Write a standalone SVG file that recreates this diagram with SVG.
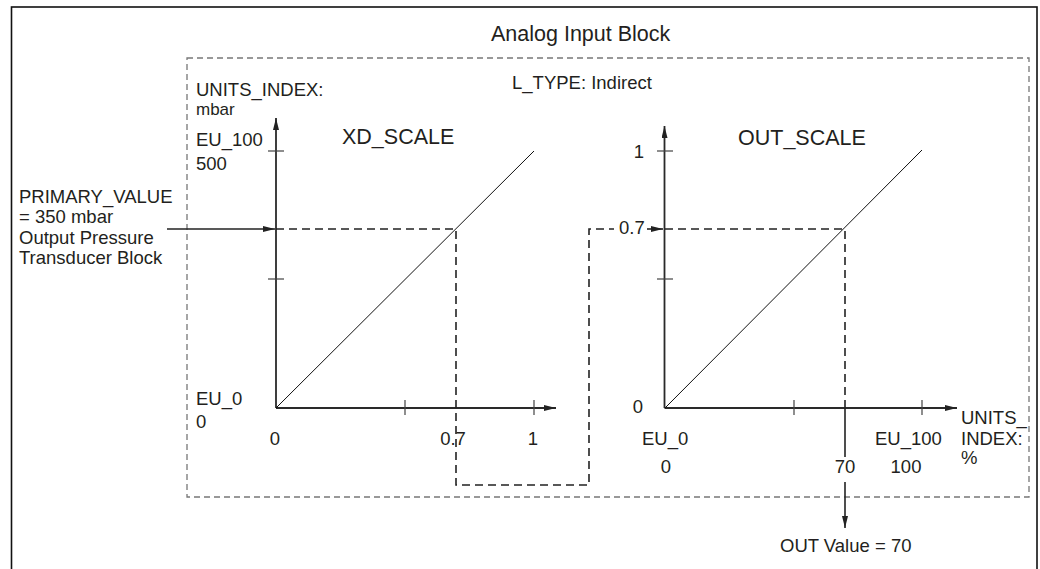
<svg xmlns="http://www.w3.org/2000/svg" width="1040" height="569" viewBox="0 0 1040 569">
<defs>
<style>
text{font-family:"Liberation Sans",Arial,sans-serif;font-size:18.5px;fill:#231f20}
.big{font-size:21.5px}
.sm{font-size:17px}
.mid{text-anchor:middle}
.end{text-anchor:end}
.axis{stroke:#2a2a2a;stroke-width:1.8;fill:none}
.tick{stroke:#444;stroke-width:1.2;fill:none}
.diag{stroke:#111;stroke-width:1;fill:none}
.dash{stroke:#222;stroke-width:1.6;fill:none;stroke-dasharray:8 5}
.solid{stroke:#222;stroke-width:1.6;fill:none}
.box{stroke:#777;stroke-width:1.3;fill:none;stroke-dasharray:6 4}
</style>
<marker id="ah" viewBox="0 0 12 6" refX="12" refY="3" markerWidth="12" markerHeight="6" markerUnits="userSpaceOnUse" orient="auto">
<path d="M0,0 L12,3 L0,6 Z" fill="#222"/>
</marker>
</defs>
<rect width="1040" height="569" fill="#fff"/>
<g id="frame">
<rect x="11.5" y="7" width="1025.5" height="620" fill="none" stroke="#111" stroke-width="1.6"/>
<text class="big" x="491" y="41">Analog Input Block</text>
</g>
<g id="analog-input-block">
<rect class="box" x="187" y="58" width="842" height="439"/>
<text x="512" y="89">L_TYPE: Indirect</text>
</g>
<g id="xd-scale">
<line class="axis" x1="276" y1="408" x2="276" y2="118" marker-end="url(#ah)"/>
<line class="axis" x1="276" y1="408" x2="556" y2="408" marker-end="url(#ah)"/>
<line class="tick" x1="268" y1="151" x2="284" y2="151"/>
<line class="tick" x1="268" y1="279" x2="284" y2="279"/>
<line class="tick" x1="405" y1="400" x2="405" y2="415"/>
<line class="tick" x1="534" y1="400" x2="534" y2="415"/>
<line class="diag" x1="276" y1="408" x2="534" y2="151"/>
<text x="196" y="96">UNITS_INDEX:</text>
<text class="sm" x="196" y="115">mbar</text>
<text x="196" y="146">EU_100</text>
<text x="196" y="170">500</text>
<text class="big" x="342" y="144">XD_SCALE</text>
<text x="196" y="405">EU_0</text>
<text x="196" y="428">0</text>
<text class="mid" x="275" y="445">0</text>
<text class="mid" x="453" y="445">0.7</text>
<text class="mid" x="533" y="445">1</text>
</g>
<g id="out-scale">
<line class="axis" x1="664.5" y1="408" x2="664.5" y2="126" marker-end="url(#ah)"/>
<line class="axis" x1="664.5" y1="408" x2="957" y2="408" marker-end="url(#ah)"/>
<line class="tick" x1="657" y1="151" x2="673" y2="151"/>
<line class="tick" x1="657" y1="279" x2="673" y2="279"/>
<line class="tick" x1="794" y1="400" x2="794" y2="415"/>
<line class="tick" x1="922" y1="400" x2="922" y2="415"/>
<line class="diag" x1="665" y1="408" x2="922" y2="150"/>
<text class="end" x="644" y="158">1</text>
<text class="big" x="738" y="145">OUT_SCALE</text>
<text class="mid" x="638" y="413">0</text>
<text x="642" y="445">EU_0</text>
<text class="mid" x="666" y="473">0</text>
<text x="875" y="445">EU_100</text>
<text class="mid" x="906" y="473">100</text>
<text x="961" y="424">UNITS_</text>
<text x="961" y="445">INDEX:</text>
<text x="961" y="464">%</text>
</g>
<g id="primary-value">
<text x="19" y="203">PRIMARY_VALUE</text>
<text x="19" y="223">= 350 mbar</text>
<text x="19" y="244">Output Pressure</text>
<text x="19" y="264">Transducer Block</text>
</g>
<g id="out-value">
<text x="780" y="552">OUT Value = 70</text>
<text class="mid" x="845" y="473">70</text>
</g>
<g id="connectors">
<line class="solid" x1="167" y1="229" x2="275" y2="229" marker-end="url(#ah)"/>
<path class="dash" d="M276,229 H456 V485 H589 V229 H614"/>
<text x="619" y="234">0.7</text>
<line class="solid" x1="647" y1="229" x2="663" y2="229" marker-end="url(#ah)"/>
<path class="dash" d="M665,229 H845 V408"/>
<line class="solid" x1="845" y1="408" x2="845" y2="457"/>
<line class="solid" x1="845" y1="482" x2="845" y2="528" marker-end="url(#ah)"/>
</g>
</svg>
